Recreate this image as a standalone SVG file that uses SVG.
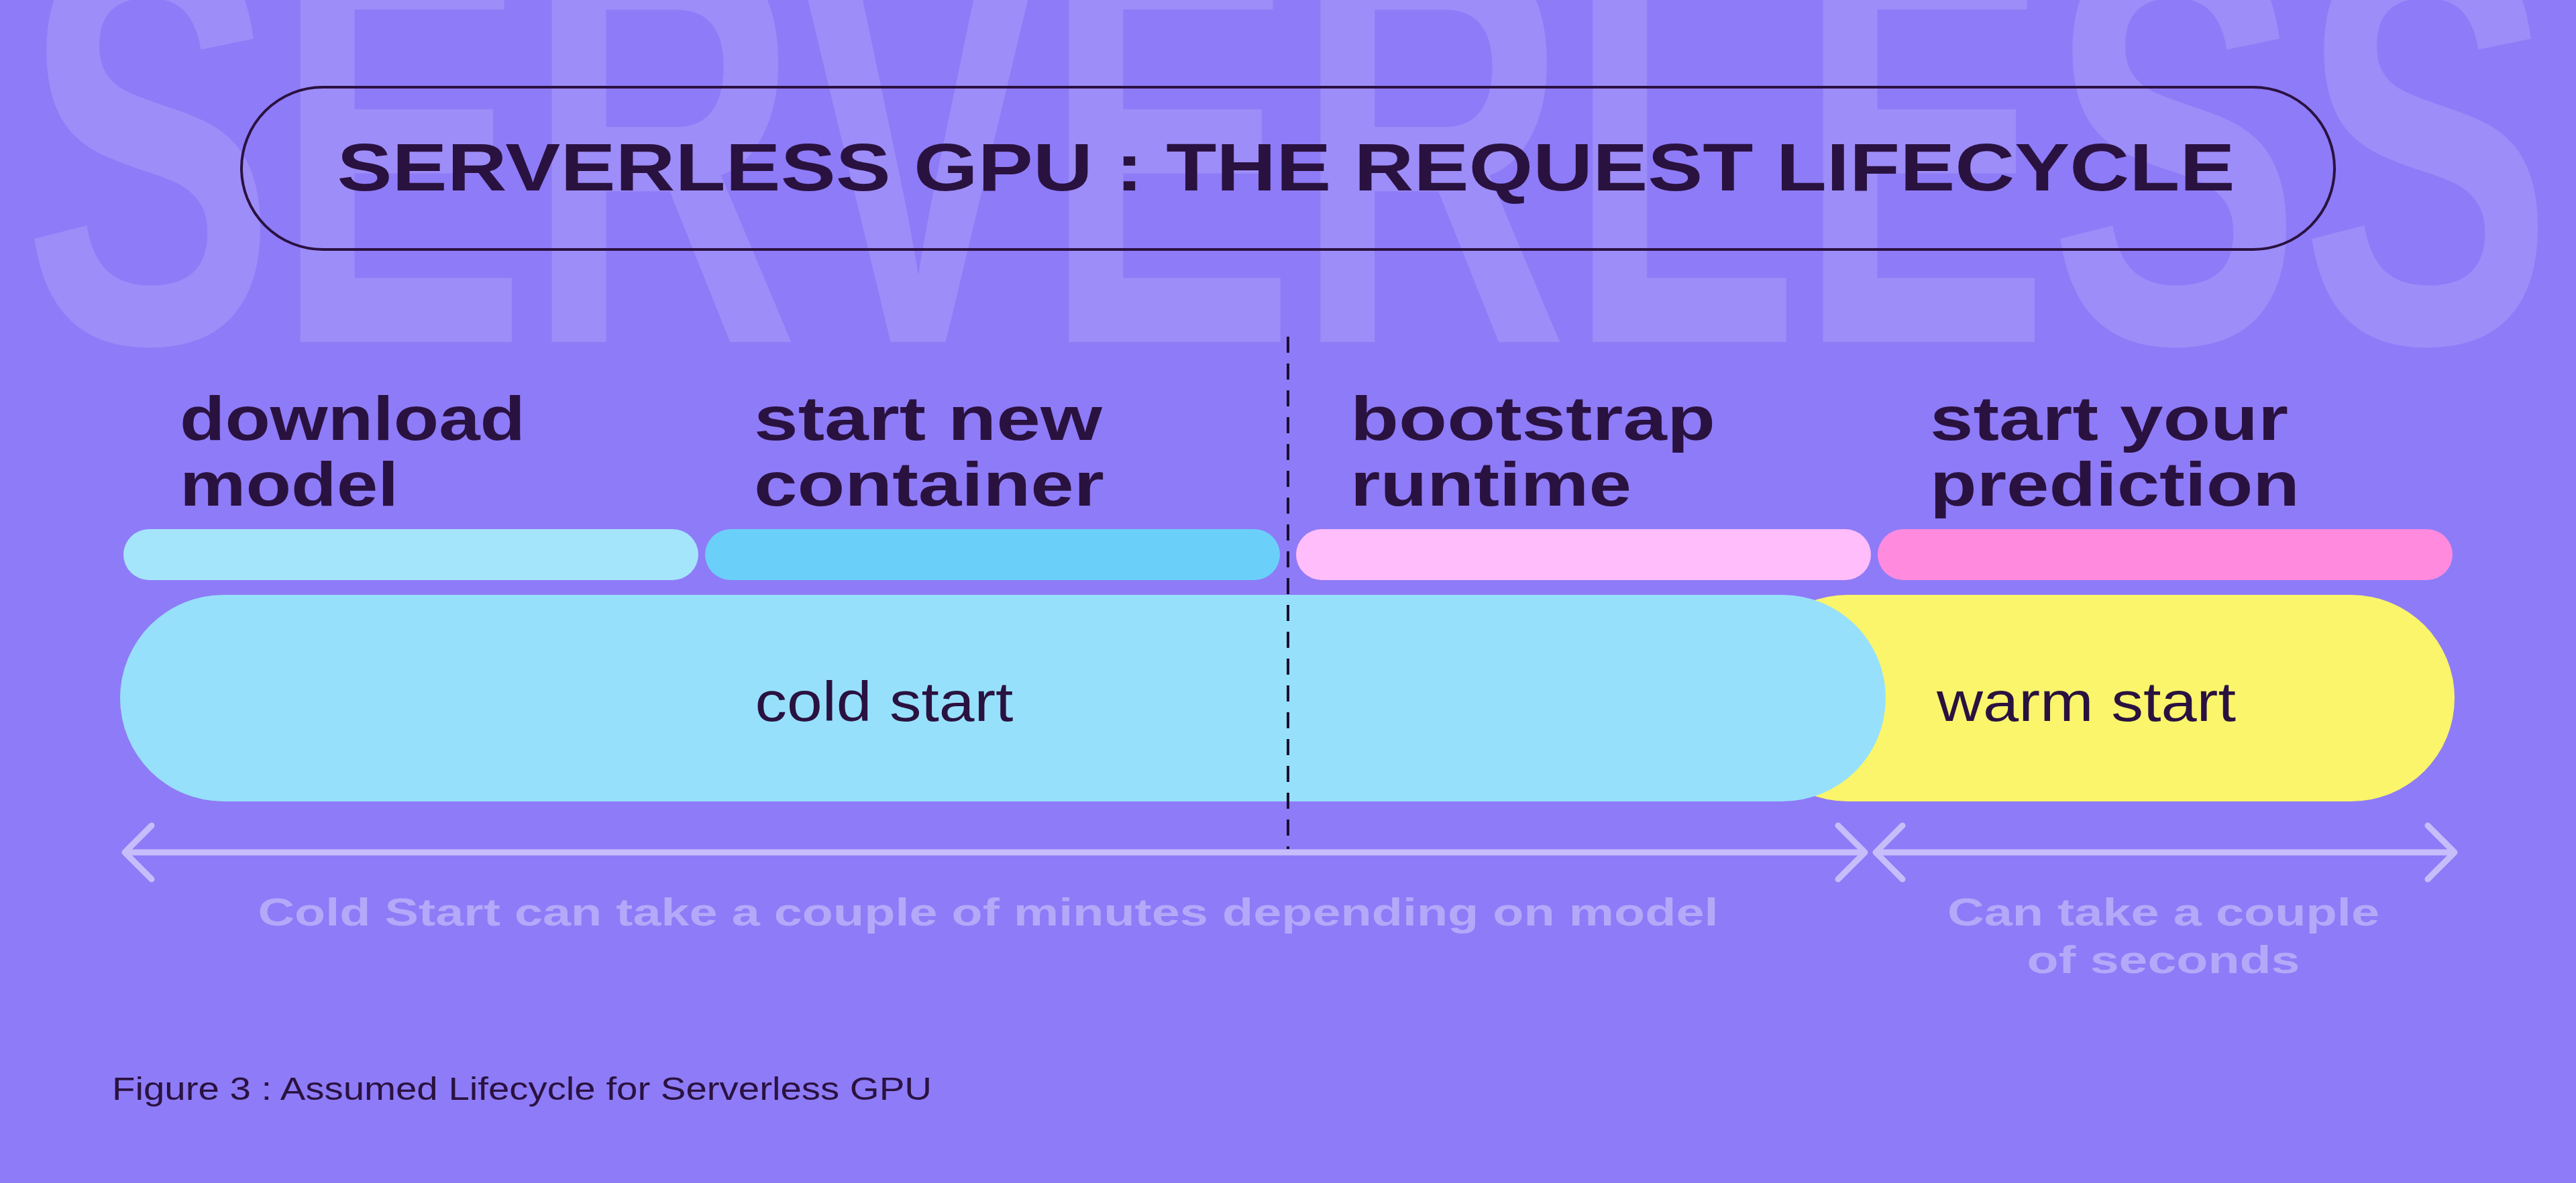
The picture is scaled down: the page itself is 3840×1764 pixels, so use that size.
<svg xmlns="http://www.w3.org/2000/svg" width="3840" height="1764" viewBox="0 0 3840 1764">
<defs>
<style>
.lbl{font-family:"Liberation Sans",Arial,sans-serif;font-weight:bold;font-size:92px;fill:#2A1240}
.inl{font-family:"Liberation Sans",Arial,sans-serif;font-size:84px;fill:#2A1240}
.note{font-family:"Liberation Sans",Arial,sans-serif;font-weight:bold;font-size:58px;fill:#B4A8F9;text-anchor:middle}
.arr{stroke:#C7BDFB;stroke-width:9;fill:none;stroke-linecap:round;stroke-linejoin:round}
</style>
</defs>
<rect width="3840" height="1764" fill="#8E7BF7"/>
<text x="1920" y="510" text-anchor="middle" font-family="Liberation Sans,Arial,sans-serif" font-weight="bold" font-size="860" fill="#9D8DF8" textLength="3770" lengthAdjust="spacingAndGlyphs">SERVERLESS</text>
<g id="title">
<rect x="360" y="130" width="3120" height="242" rx="121" fill="none" stroke="#2A1240" stroke-width="4"/>
<text x="1917" y="284" text-anchor="middle" font-family="Liberation Sans,Arial,sans-serif" font-weight="bold" font-size="100" fill="#2A1240" textLength="2829" lengthAdjust="spacingAndGlyphs">SERVERLESS GPU : THE REQUEST LIFECYCLE</text>
</g>
<g id="step1"><text class="lbl" x="268" y="656" textLength="515" lengthAdjust="spacingAndGlyphs">download</text><text class="lbl" x="268" y="754" textLength="326" lengthAdjust="spacingAndGlyphs">model</text><rect x="184" y="789" width="857" height="76" rx="38" fill="#A5E5FB"/></g>
<g id="step2"><text class="lbl" x="1124" y="656" textLength="519" lengthAdjust="spacingAndGlyphs">start new</text><text class="lbl" x="1124" y="754" textLength="522" lengthAdjust="spacingAndGlyphs">container</text><rect x="1051" y="789" width="857" height="76" rx="38" fill="#6AD0FA"/></g>
<g id="step3"><text class="lbl" x="2013" y="656" textLength="544" lengthAdjust="spacingAndGlyphs">bootstrap</text><text class="lbl" x="2013" y="754" textLength="419" lengthAdjust="spacingAndGlyphs">runtime</text><rect x="1932" y="789" width="857" height="76" rx="38" fill="#FFBDFB"/></g>
<g id="step4"><text class="lbl" x="2877" y="656" textLength="534" lengthAdjust="spacingAndGlyphs">start your</text><text class="lbl" x="2877" y="754" textLength="551" lengthAdjust="spacingAndGlyphs">prediction</text><rect x="2799" y="789" width="857" height="76" rx="38" fill="#FF8ADE"/></g>
<g id="warm"><rect x="2600" y="887" width="1059" height="308" rx="154" fill="#FAF56A"/><text class="inl" x="3110" y="1075" text-anchor="middle" textLength="446" lengthAdjust="spacingAndGlyphs">warm start</text></g>
<g id="cold"><rect x="179" y="887" width="2632" height="308" rx="154" fill="#97E0FC"/><text class="inl" x="1318" y="1075" text-anchor="middle" textLength="385" lengthAdjust="spacingAndGlyphs">cold start</text></g>
<g id="connectors">
<line x1="1920" y1="502" x2="1920" y2="1266" stroke="#1A1030" stroke-width="4" stroke-dasharray="24 16"/>
<path class="arr" d="M186 1271H2780M226 1231L186 1271L226 1311M2740 1231L2780 1271L2740 1311"/>
<path class="arr" d="M2796 1271H3659M2836 1231L2796 1271L2836 1311M3619 1231L3659 1271L3619 1311"/>
</g>
<text class="note" x="1473" y="1380" textLength="2177" lengthAdjust="spacingAndGlyphs">Cold Start can take a couple of minutes depending on model</text>
<text class="note" x="3225" y="1380" textLength="644" lengthAdjust="spacingAndGlyphs">Can take a couple</text>
<text class="note" x="3225" y="1451" textLength="407" lengthAdjust="spacingAndGlyphs">of seconds</text>
<text x="167" y="1640" font-family="Liberation Sans,Arial,sans-serif" font-size="48" fill="#2A1240" textLength="1222" lengthAdjust="spacingAndGlyphs">Figure 3 : Assumed Lifecycle for Serverless GPU</text>
</svg>
